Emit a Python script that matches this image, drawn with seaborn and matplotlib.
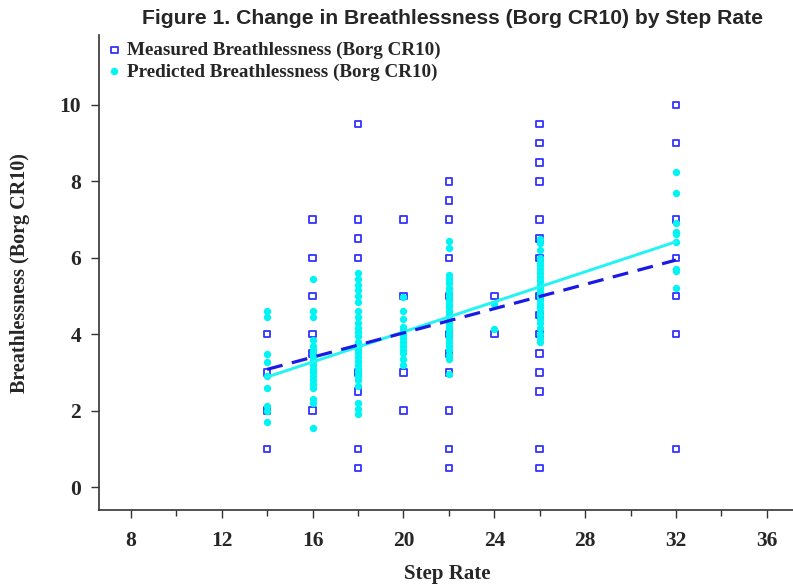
import numpy as np
import pandas as pd
import matplotlib
matplotlib.use("Agg")
import matplotlib.pyplot as plt
import seaborn as sns
from matplotlib.ticker import MultipleLocator

# ---- data ----
measured = {
    14: [4, 3, 2, 1],
    16: [7, 6, 5, 4, 3.5, 2],
    18: [9.5, 7, 6.5, 6, 3, 2.5, 1, 0.5],
    20: [7, 5, 3, 2],
    22: [8, 7.5, 7, 6, 5, 4, 3.5, 3, 2, 1, 0.5],
    24: [5, 4],
    26: [9.5, 9, 8.5, 8, 7, 6.5, 6, 5, 4.5, 4, 3.5, 3, 2.5, 1, 0.5],
    32: [10, 9, 7, 6, 5, 4, 1],
}
predicted = {
    14: [4.62, 4.45, 3.48, 3.28, 2.9, 2.6, 2.12, 2.0, 1.71],
    16: [5.45, 4.6, 4.45, 3.85, 3.7, 3.6, 3.5, 3.4, 3.3, 3.2, 3.1, 3.0,
         2.9, 2.8, 2.7, 2.6, 2.3, 2.2, 1.55],
    18: [5.6, 5.45, 5.3, 5.15, 5.0, 4.85, 4.6, 4.45, 4.3, 4.15, 4.05, 3.95,
         3.8, 3.7, 3.6, 3.5, 3.4, 3.3, 3.2, 3.1, 3.0, 2.9, 2.8, 2.65,
         2.2, 2.05, 1.9],
    20: [4.98, 4.6, 4.4, 4.2, 4.1, 4.0, 3.9, 3.8, 3.7, 3.6, 3.5, 3.35, 3.2],
    22: [6.45, 6.25, 5.55, 5.45, 5.35, 5.2, 5.1, 5.0, 4.9, 4.8, 4.7, 4.6,
         4.5, 4.4, 4.3, 4.2, 4.1, 4.0, 3.9, 3.8, 3.7, 3.6, 3.45, 3.35, 2.95],
    24: [4.78, 4.13],
    26: [6.5, 6.4, 6.2, 6.0, 5.9, 5.8, 5.7, 5.6, 5.5, 5.4, 5.3, 5.2, 5.1,
         5.0, 4.9, 4.8, 4.7, 4.6, 4.5, 4.4, 4.3, 4.15, 4.0, 3.9, 3.8],
    32: [8.24, 7.69, 6.92, 6.68, 6.62, 6.42, 5.7, 5.65, 5.2],
}
fit_x = [14, 32]
measured_fit = [3.08, 5.94]
predicted_fit = [2.88, 6.42]

x_ticks = [8, 12, 16, 20, 24, 28, 32, 36]
y_ticks = [0, 2, 4, 6, 8, 10]

title = "Figure 1. Change in Breathlessness (Borg CR10) by Step Rate"
label_meas = "Measured Breathlessness (Borg CR10)"
label_pred = "Predicted Breathlessness (Borg CR10)"

df_m = pd.DataFrame([(k, v) for k, vals in measured.items() for v in vals],
                    columns=["step", "value"])
df_p = pd.DataFrame([(k, v) for k, vals in predicted.items() for v in vals],
                    columns=["step", "value"])

sns.set_theme(style="white")
plt.rcParams["font.family"] = ["Liberation Serif", "DejaVu Serif"]

fig = plt.figure(figsize=(7.93, 5.87), dpi=100)
ax = fig.add_axes([99 / 793, (587 - 510) / 587, (793 - 99) / 793, (510 - 35) / 587])

SQ = "#3333ff"
CY = "#00f4f4"
DB = "#1a1ae6"

sns.scatterplot(data=df_m, x="step", y="value", ax=ax, marker="s", s=22,
                facecolors="none", edgecolors=SQ, linewidths=1.3,
                label=label_meas, zorder=2)
sns.scatterplot(data=df_p, x="step", y="value", ax=ax, marker="o", s=28,
                color=CY, edgecolor=CY, linewidth=0, label=label_pred, zorder=3)
sns.lineplot(x=fit_x, y=predicted_fit, ax=ax, color="#22f4f4", linewidth=2.1,
             zorder=4)
sns.lineplot(x=fit_x, y=measured_fit, ax=ax, color=DB, linewidth=2.3,
             linestyle=(0, (5, 3)), zorder=5)

ax.set_xlim(6.6, 37.15)
ax.set_ylim(-0.6, 11.83)
ax.set_xticks(x_ticks)
ax.set_yticks(y_ticks)
ax.xaxis.set_minor_locator(MultipleLocator(2))
ax.tick_params(axis="both", which="major", direction="out", length=6,
               width=1, color="#333333", labelsize=15.5, bottom=True, left=True)
ax.tick_params(axis="x", which="major", pad=9)
ax.tick_params(axis="y", which="major", pad=7)
ax.tick_params(axis="x", which="minor", direction="out", length=4, width=1,
               color="#333333", bottom=True)
for lab in ax.get_xticklabels() + ax.get_yticklabels():
    lab.set_fontweight("bold")
for side in ["top", "right"]:
    ax.spines[side].set_visible(False)
for side in ["left", "bottom"]:
    ax.spines[side].set_color("#333333")
    ax.spines[side].set_linewidth(1.2)

ax.set_xlabel("Step Rate", fontsize=15, fontweight="bold")
ax.set_ylabel("Breathlessness (Borg CR10)", fontsize=14.5, fontweight="bold")
ax.xaxis.set_label_coords((447 - 99) / 694, (510 - 574) / 475)
ax.yaxis.set_label_coords((20 - 99) / 694, (510 - 273) / 475)
ax.xaxis.label.set_va("center")
ax.yaxis.label.set_va("center")

fig.suptitle(title, x=0.570, y=0.985, fontsize=15.2, fontweight="bold",
             family=["Liberation Sans", "DejaVu Sans"])

leg = ax.legend(loc="upper left", frameon=False,
                prop={"weight": "bold", "size": 13.8}, handletextpad=0.25,
                handlelength=0.8, borderaxespad=0.0, borderpad=0.4,
                labelspacing=0.2, bbox_to_anchor=(0.0, 1.002))
for t in leg.get_texts():
    t.set_fontweight("bold")

fig.savefig("out.png", dpi=100)
